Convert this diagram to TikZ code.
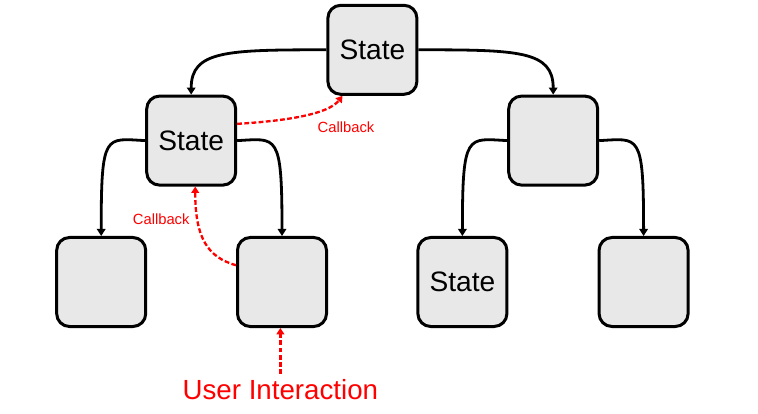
\documentclass[tikz,border=0pt]{standalone}
\usepackage{fontspec}
\setmainfont{Liberation Sans}
\usepackage{xcolor}
\usepackage{tikz}
\usetikzlibrary{positioning, arrows.meta}
\definecolor{sInk}{HTML}{000000}
\definecolor{sFill}{HTML}{E8E8E8}
\definecolor{cbRed}{HTML}{FF0000}

\begin{document}
\begin{tikzpicture}[>={Triangle[length=5pt,width=6pt]},
  box/.style={draw=sInk, line width=0.075cm, fill=sFill, rounded corners=0.32cm,
    minimum size=2.225cm, inner sep=0pt, font=\fontsize{20}{24}\selectfont},
  tree/.style={draw=sInk, line width=0.07cm, ->},
  cb/.style={draw=cbRed, line width=0.058cm, dash pattern=on 3.4pt off 1.7pt,
    -{Triangle[length=4.5pt,width=5.5pt]}},
  cblabel/.style={text=cbRed, font=\fontsize{10.5}{12}\selectfont, inner sep=0pt}]
  \useasboundingbox (0,0) rectangle (18.95,10.325);
  % boxes
  \node[box] (top) at (9.31,9.08) {State};
  \node[box] (lm) at (4.78,6.81) {State};
  \node[box] (rm) at (13.83,6.81) {};
  \node[box] (b1) at (2.53,3.275) {};
  \node[box] (b2) at (7.05,3.275) {};
  \node[box] (b3) at (11.56,3.275) {State};
  \node[box] (b4) at (16.09,3.275) {};
  % tree edges
  \draw[tree] (top.west) .. controls +(-2.5,0) and +(0,1.1) .. (lm.north);
  \draw[tree] (top.east) .. controls +(2.5,0) and +(0,1.1) .. (rm.north);
  \draw[tree] (lm.west) .. controls +(-1.0,0.05) and +(0,2.6) .. (b1.north);
  \draw[tree] (lm.east) .. controls +(1.0,0.05) and +(0,2.6) .. (b2.north);
  \draw[tree] (rm.west) .. controls +(-1.0,0.05) and +(0,2.6) .. (b3.north);
  \draw[tree] (rm.east) .. controls +(1.0,0.05) and +(0,2.6) .. (b4.north);
  % callbacks
  \node[cblabel] (cb1) at (8.65,7.15) {Callback};
  \node[cblabel] (cb2) at (4.03,4.85) {Callback};
  \draw[cb] (lm.20) .. controls +(1.3,0.08) and +(-0.35,-0.45) .. (top.237);
  \draw[cb] (b2.160) .. controls +(-0.7,0.2) and +(0,-1.3) .. (lm.275);
  % user input
  \node[text=cbRed, font=\fontsize{19.7}{23}\selectfont, inner sep=4pt] (ui) at (7.01,0.575) {User Interaction};
  \draw[cb] (ui.north) -- (b2.south -| ui.north);
\end{tikzpicture}
\end{document}
